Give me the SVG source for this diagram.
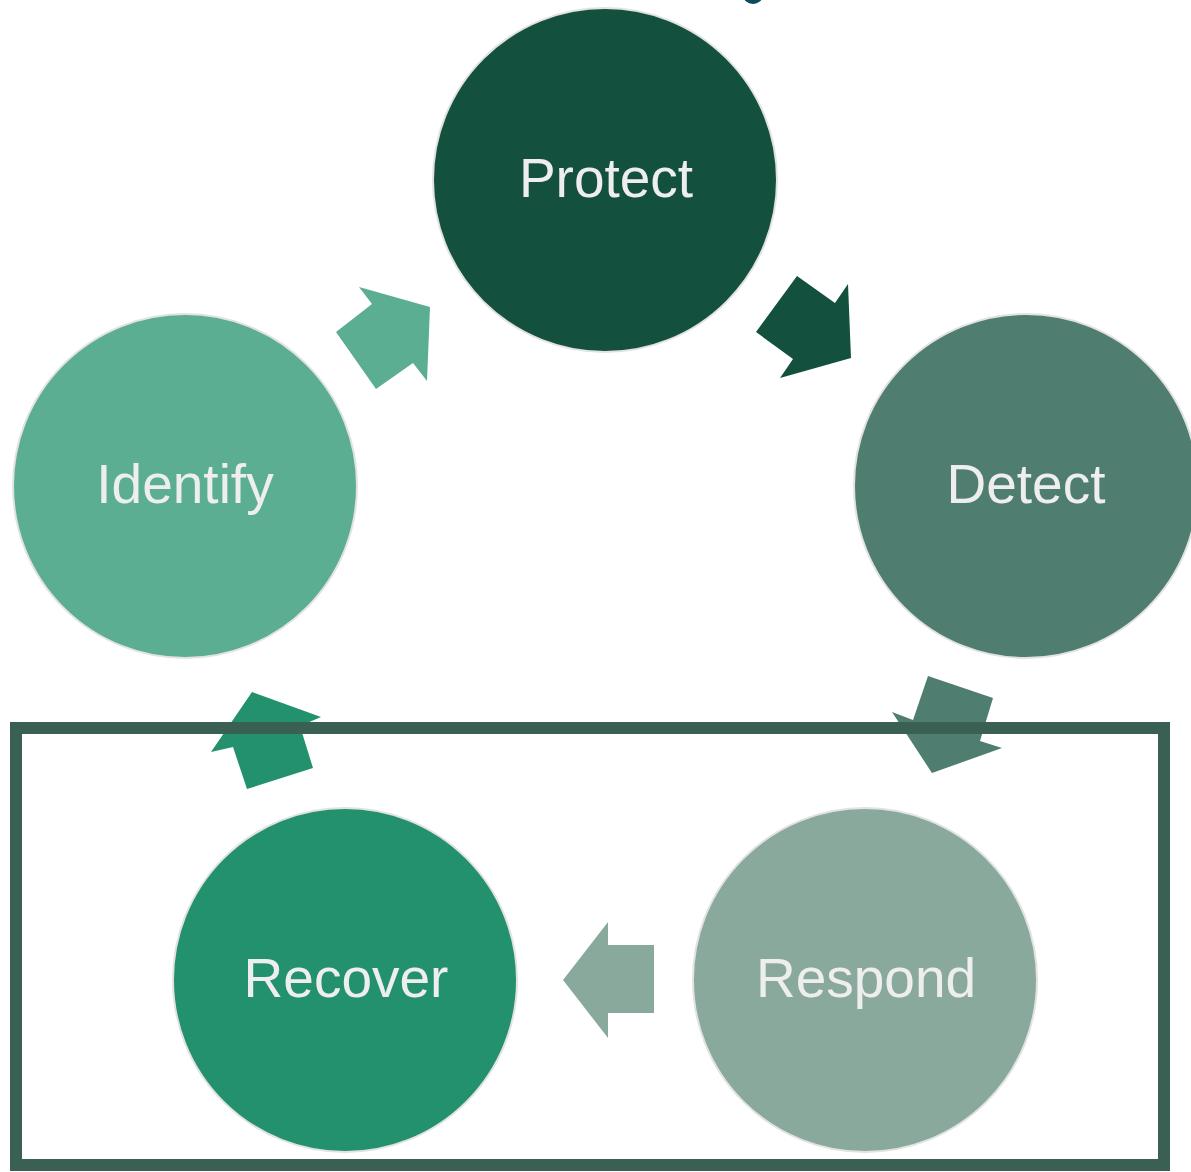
<svg xmlns="http://www.w3.org/2000/svg" width="1191" height="1172" viewBox="0 0 1191 1172">
<style>
.c{stroke:#e2e2e2;stroke-width:2}
.t{font-family:"Liberation Sans",Arial,sans-serif;font-size:55px;fill:#eeeeee;text-anchor:middle;dominant-baseline:central}
</style>
<rect width="1191" height="1172" fill="#ffffff"/>
<ellipse cx="753" cy="-5" rx="10" ry="9" fill="#0d4a5e"/>
<g id="connectors">
<polygon points="359,287 430,307 427,381 413,363 376,389 336,332 372,304" fill="#5BAE92"/>
<polygon points="797,276 835,303 848,284 851,358 780,378 793,359 756,332" fill="#13513E"/>
<polygon points="928,676 993,698 980,741 1002,748 932,773 892,712 913,720" fill="#4F7D6F"/>
<polygon points="563,980 608,922 608,945 654,945 654,1013 608,1013 608,1038" fill="#8AA99D"/>
<polygon points="252,692 321,717 300,726 313,768 247,789 233,747 211,752" fill="#23916D"/>
</g>
<g id="protect"><circle class="c" cx="605" cy="180" r="172" fill="#13513E"/><text class="t" x="606" y="178">Protect</text></g>
<g id="detect"><circle class="c" cx="1026" cy="486" r="172" fill="#4F7D6F"/><text class="t" x="1026" y="484">Detect</text></g>
<g id="identify"><circle class="c" cx="185" cy="486" r="172" fill="#5BAE92"/><text class="t" x="185" y="484">Identify</text></g>
<g id="recover"><circle class="c" cx="345" cy="980" r="172" fill="#23916D"/><text class="t" x="346" y="978">Recover</text></g>
<g id="respond"><circle class="c" cx="865" cy="980" r="172" fill="#8AA99D"/><text class="t" x="866" y="978">Respond</text></g>
<rect id="frame" x="16" y="728" width="1148" height="437" fill="none" stroke="#3A5F53" stroke-width="12"/>
</svg>
